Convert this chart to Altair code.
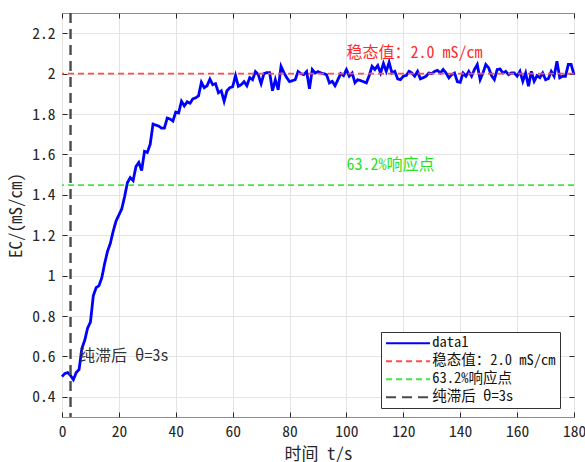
import altair as alt
import pandas as pd

# ---------------- data ----------------
time_s = list(range(0, 181))
ec_values = [
    0.50, 0.515, 0.52, 0.505, 0.485, 0.52, 0.535, 0.64, 0.68, 0.74,
    0.77, 0.90, 0.94, 0.95, 0.99, 1.06, 1.12, 1.16, 1.22, 1.27,
    1.30, 1.33, 1.39, 1.46, 1.485, 1.47, 1.54, 1.56, 1.52, 1.615,
    1.61, 1.65, 1.75, 1.745, 1.74, 1.73, 1.73, 1.78, 1.775, 1.765,
    1.81, 1.805, 1.863, 1.84, 1.86, 1.853, 1.875, 1.88, 1.89, 1.957,
    1.93, 1.94, 1.973, 1.945, 1.95, 1.905, 1.915, 1.863, 1.915, 1.93,
    1.935, 1.99, 1.937, 1.945, 1.96, 1.94, 1.98, 1.97, 2.01, 1.995,
    1.95, 2.0, 2.005, 2.005, 1.915, 1.97, 1.92, 2.036, 2.005, 1.98,
    1.96, 1.965, 1.97, 2.01, 2.0, 1.995, 2.01, 1.925, 2.02, 2.003,
    2.01, 2.003, 2.0, 1.995, 1.954, 1.962, 1.94, 1.97, 2.0, 1.99,
    2.02, 1.987, 2.003, 1.955, 1.97, 1.965, 1.96, 1.954, 1.99, 2.036,
    2.02, 2.04, 2.003, 2.05, 2.011, 2.056, 2.003, 2.011, 1.974, 1.97,
    1.987, 1.99, 2.011, 2.003, 1.987, 2.011, 1.974, 1.98, 1.987, 2.003,
    2.0, 2.011, 2.016, 2.003, 2.02, 2.003, 1.979, 1.995, 2.003, 1.96,
    1.957, 2.003, 1.987, 2.011, 1.987, 2.02, 2.045, 1.97, 2.003, 2.045,
    2.028, 1.99, 1.97, 2.02, 2.023, 2.003, 2.011, 1.995, 2.003, 2.003,
    1.987, 2.011, 1.962, 2.003, 1.937, 2.011, 1.962, 1.99, 1.98, 2.003,
    1.97, 1.975, 2.011, 1.987, 2.061, 1.979, 1.987, 1.987, 2.045, 2.045,
    1.995,
]

steady_value = 2.0
response_value = 1.448
dead_time = 3

x_ticks = [0, 20, 40, 60, 80, 100, 120, 140, 160, 180]
y_ticks = [0.4, 0.6, 0.8, 1.0, 1.2, 1.4, 1.6, 1.8, 2.0, 2.2]

series_names = ["data1", "稳态值：2.0 mS/cm", "63.2%响应点", "纯滞后 θ=3s"]
series_colors = ["#0000ff", "#ff4d4d", "#44e644", "#4a4a4a"]
series_dashes = [[1, 0], [6, 4], [6, 4], [10, 6]]

note_x = [100, 100, 6]
note_y = [2.1, 1.55, 0.6]
note_text = ["稳态值：2.0 mS/cm", "63.2%响应点", "纯滞后 θ=3s"]
note_colors = ["#ff2a2a", "#2adf2a", "#333333"]

FONT = "Noto Sans Mono CJK SC, Noto Sans CJK SC, sans-serif"

# ---------------- tables ----------------
curve = pd.DataFrame({"t": time_s, "ec": ec_values, "series": series_names[0]})
steady_df = pd.DataFrame({"y": [steady_value], "series": [series_names[1]]})
resp_df = pd.DataFrame({"y": [response_value], "series": [series_names[2]]})
dead_df = pd.DataFrame({"x": [dead_time], "series": [series_names[3]]})

xscale = alt.Scale(domain=[0, 180], nice=False, zero=False)
yscale = alt.Scale(domain=[0.3, 2.3], nice=False, zero=False)

color_enc = alt.Color(
    "series:N",
    scale=alt.Scale(domain=series_names, range=series_colors),
    legend=alt.Legend(title=None),
)
dash_enc = alt.StrokeDash(
    "series:N",
    scale=alt.Scale(domain=series_names, range=series_dashes),
    legend=alt.Legend(title=None),
)

common_axis = dict(offset=-5, tickSize=5, domain=False, tickColor="#262626",
                   tickWidth=1, labelFlush=False)

line = alt.Chart(curve).mark_line(strokeWidth=2.8).encode(
    x=alt.X("t:Q", scale=xscale,
            axis=alt.Axis(values=x_ticks, title="时间 t/s", orient="bottom",
                          grid=True, labelPadding=7, titlePadding=7,
                          **common_axis)),
    y=alt.Y("ec:Q", scale=yscale,
            axis=alt.Axis(values=y_ticks, title="EC/(mS/cm)", orient="left",
                          grid=True, format="~g", labelPadding=7,
                          titlePadding=6, **common_axis)),
    color=color_enc,
    strokeDash=dash_enc,
)

frame_axes = alt.Chart(curve).mark_line(opacity=0).encode(
    x=alt.X("t:Q", scale=xscale,
            axis=alt.Axis(values=x_ticks, title=None, orient="top",
                          labels=False, grid=False, **common_axis)),
    y=alt.Y("ec:Q", scale=yscale,
            axis=alt.Axis(values=y_ticks, title=None, orient="right",
                          labels=False, grid=False, **common_axis)),
)

steady = alt.Chart(steady_df).mark_rule(strokeWidth=1.6).encode(
    y=alt.Y("y:Q", scale=yscale, axis=None),
    color=color_enc, strokeDash=dash_enc,
)
resp = alt.Chart(resp_df).mark_rule(strokeWidth=1.6).encode(
    y=alt.Y("y:Q", scale=yscale, axis=None),
    color=color_enc, strokeDash=dash_enc,
)
dead = alt.Chart(dead_df).mark_rule(strokeWidth=2.4).encode(
    x=alt.X("x:Q", scale=xscale, axis=None),
    color=color_enc, strokeDash=dash_enc,
)

notes = []
for nx, ny, nt, nc in zip(note_x, note_y, note_text, note_colors):
    notes.append(
        alt.Chart(pd.DataFrame({"x": [nx], "y": [ny], "label": [nt]}))
        .mark_text(align="left", baseline="middle", fontSize=16, font=FONT,
                   color=nc)
        .encode(x=alt.X("x:Q", scale=xscale, axis=None),
                y=alt.Y("y:Q", scale=yscale, axis=None),
                text="label:N")
    )

chart = (
    alt.layer(line, frame_axes, steady, resp, dead, *notes)
    .resolve_axis(x="independent", y="independent")
    .properties(
        width=512, height=404,
        autosize=alt.AutoSizeParams(type="none"),
        padding={"left": 62, "top": 13, "right": 11, "bottom": 45},
        background="white",
    )
    .configure_view(stroke="#8c8c8c", strokeWidth=1)
    .configure_axis(
        labelFont=FONT, labelFontSize=15.5, labelColor="#262626",
        titleFont=FONT, titleFontSize=17, titleColor="#262626",
        titleFontWeight="normal", gridColor="#e4e4e4", gridWidth=1,
    )
    .configure_legend(
        orient="none", legendX=319, legendY=319,
        direction="vertical",
        strokeColor="#333333", fillColor="white", padding=4, cornerRadius=0,
        labelFont=FONT, labelFontSize=14.5, labelColor="#111111",
        symbolType="M-4,0H4", symbolSize=121, symbolStrokeWidth=2,
        symbolOffset=15.75, labelOffset=17, rowPadding=3,
    )
)

chart.save("out.html", embed_options={"renderer": "svg", "actions": False})
